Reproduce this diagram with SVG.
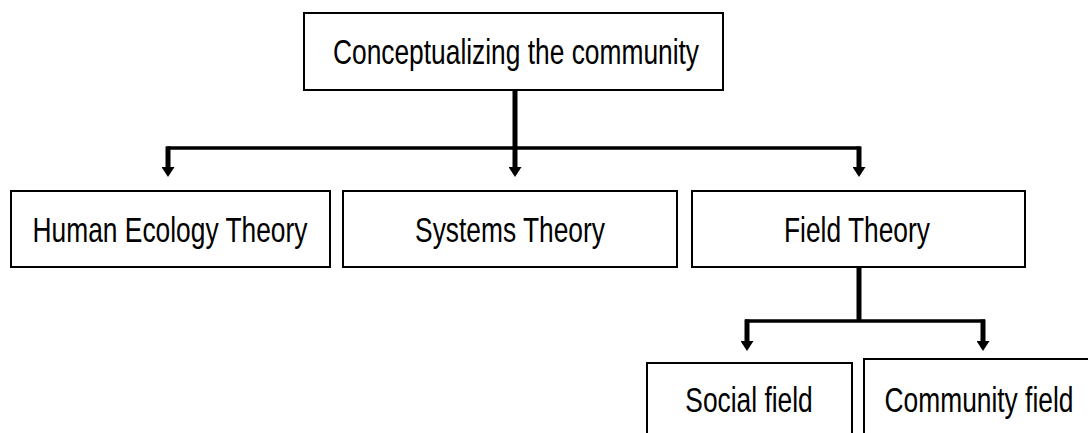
<svg xmlns="http://www.w3.org/2000/svg" width="1088" height="433" viewBox="0 0 1088 433">
  <style>
    .box { fill: #ffffff; stroke: #000000; stroke-width: 2; }
    .label { font-family: "Liberation Sans", Arial, sans-serif; font-size: 35px; fill: #000000; text-anchor: middle; }
    .stem { fill: none; stroke: #000000; stroke-width: 5; marker-end: url(#arrow); }
    .bar { fill: none; stroke: #000000; stroke-width: 3.5; }
    .trunk { fill: none; stroke: #000000; stroke-width: 5; }
  </style>
  <defs>
    <marker id="arrow" markerUnits="userSpaceOnUse" markerWidth="10" markerHeight="13" viewBox="0 0 10 13" refX="0" refY="6.5" orient="auto">
      <path d="M0,0 L10,6.5 L0,13 Z" fill="#000000"/>
    </marker>
  </defs>
  <rect width="1088" height="433" fill="#ffffff"/>

  <!-- connectors -->
  <g id="connectors">
    <!-- root to first level -->
    <path class="trunk" d="M515,90 V148"/>
    <path class="bar" d="M166.5,148 H860.5"/>
    <path class="stem" d="M168,146.5 V167"/>
    <path class="stem" d="M515,148 V167"/>
    <path class="stem" d="M859,146.5 V167"/>
    <!-- field theory to second level -->
    <path class="trunk" d="M859,267 V321"/>
    <path class="bar" d="M745,321 H985"/>
    <path class="stem" d="M747,319.5 V341"/>
    <path class="stem" d="M983,319.5 V341"/>
  </g>

  <!-- labels use a narrow face: the glyphs are squeezed to 3/4 width -->
  <g id="node-root">
    <rect class="box" x="304" y="13" width="419" height="77"/>
    <text class="label" transform="translate(516,64) scale(0.753,1)">Conceptualizing the community</text>
  </g>

  <g id="node-human-ecology">
    <rect class="box" x="11" y="191" width="319" height="76"/>
    <text class="label" transform="translate(170,241.5) scale(0.753,1)">Human Ecology Theory</text>
  </g>

  <g id="node-systems">
    <rect class="box" x="343" y="191" width="334" height="76"/>
    <text class="label" transform="translate(510,241.5) scale(0.753,1)">Systems Theory</text>
  </g>

  <g id="node-field">
    <rect class="box" x="692" y="191" width="333" height="76"/>
    <text class="label" transform="translate(857,241.5) scale(0.753,1)">Field Theory</text>
  </g>

  <g id="node-social-field">
    <rect class="box" x="647" y="363" width="205" height="90"/>
    <text class="label" transform="translate(749,412) scale(0.753,1)">Social field</text>
  </g>

  <g id="node-community-field">
    <rect class="box" x="864" y="359" width="240" height="90"/>
    <text class="label" transform="translate(979,412) scale(0.753,1)">Community field</text>
  </g>
</svg>
